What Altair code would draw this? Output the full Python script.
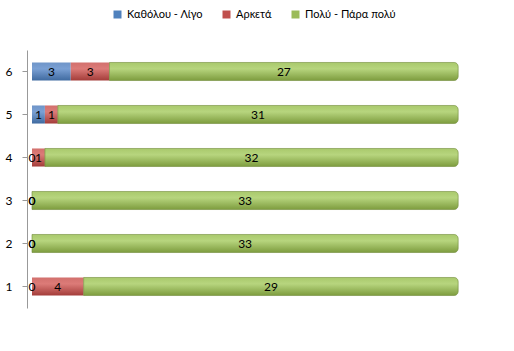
import altair as alt
import pandas as pd

categories = ["1", "2", "3", "4", "5", "6"]
series = ["Καθόλου - Λίγο", "Αρκετά", "Πολύ - Πάρα πολύ"]
v_low = [0, 0, 0, 0, 1, 3]
v_mid = [4, 0, 0, 1, 1, 3]
v_high = [29, 33, 33, 32, 31, 27]
colors = ["#4F81BD", "#C0504D", "#9BBB59"]

rows = []
for i, c in enumerate(categories):
    for j, (s, vals) in enumerate(zip(series, [v_low, v_mid, v_high])):
        rows.append({"cat": c, "series": s, "value": vals[i], "ord": j})
df = pd.DataFrame(rows)

FONT = "Lato"

def grad(top, mid, bot):
    return alt.LinearGradient(
        gradient="linear", x1=0, y1=0, x2=0, y2=1,
        stops=[alt.GradientStop(color=top, offset=0),
               alt.GradientStop(color=mid, offset=0.35),
               alt.GradientStop(color=bot, offset=1)])

grads = [grad("#6f95c8", "#7aa0d4", "#3f6aa0"),
         grad("#d2706d", "#dc7b78", "#a33c39"),
         grad("#a9c96c", "#b7d57e", "#7d9c3e")]

base = alt.Chart(df).transform_stack(
    stack="value", groupby=["cat"], as_=["x0", "x1"],
    sort=[alt.SortField("ord", order="ascending")])

yenc = alt.Y("cat:N", sort=list(reversed(categories)), title=None,
             scale=alt.Scale(paddingInner=0.58, paddingOuter=0.29),
             axis=alt.Axis(labelFont=FONT, labelFontSize=12, labelColor="#000",
                           labelPadding=10, domainColor="#999", tickColor="#999",
                           ticks=True, tickSize=5, offset=5, labelAngle=0))
xscale = alt.Scale(domain=[0, 35], nice=False)

layers = []
for j, s in enumerate(series):
    mk = dict(color=grads[j])
    if j == 2:
        mk.update(cornerRadiusTopRight=4, cornerRadiusBottomRight=4,
                  stroke="#6f8a35", strokeWidth=0.6)
    layers.append(
        base.transform_filter(alt.datum.series == s).mark_bar(**mk).encode(
            x=alt.X("x0:Q", scale=xscale, title=None,
                    axis=alt.Axis(values=[0, 5, 10, 15, 20, 25, 30, 35], labels=False,
                                  ticks=False, domain=False, grid=True,
                                  gridColor="#aaaaaa", gridWidth=1) if j == 0 else None),
            x2="x1:Q",
            y=yenc,
        ))

text = base.transform_calculate(mid="(datum.x0 + datum.x1) / 2").mark_text(
    font=FONT, fontSize=12, color="#000", baseline="middle", align="center"
).encode(
    x=alt.X("mid:Q", scale=xscale),
    y=yenc,
    text="value:Q",
)

legend_layer = base.mark_point(filled=True, opacity=0, size=0).encode(
    color=alt.Color("series:N",
                    scale=alt.Scale(domain=series, range=colors),
                    legend=alt.Legend(title=None, orient="none", direction="horizontal",
                                      legendX=80, legendY=-41, symbolType="square",
                                      symbolSize=64, symbolOpacity=1,
                                      labelFont=FONT, labelFontSize=11,
                                      labelColor="#000", columnPadding=18,
                                      gridAlign="none")),
    x=alt.X("x0:Q", scale=xscale),
    y=yenc,
)

chart = alt.layer(*layers, text, legend_layer).properties(
    width=452, height=258, background="white",
    padding={"left": 5, "top": 9, "right": 30, "bottom": 40},
).configure_view(stroke=None)

chart.save("out.html", embed_options={"renderer": "svg", "actions": False})
